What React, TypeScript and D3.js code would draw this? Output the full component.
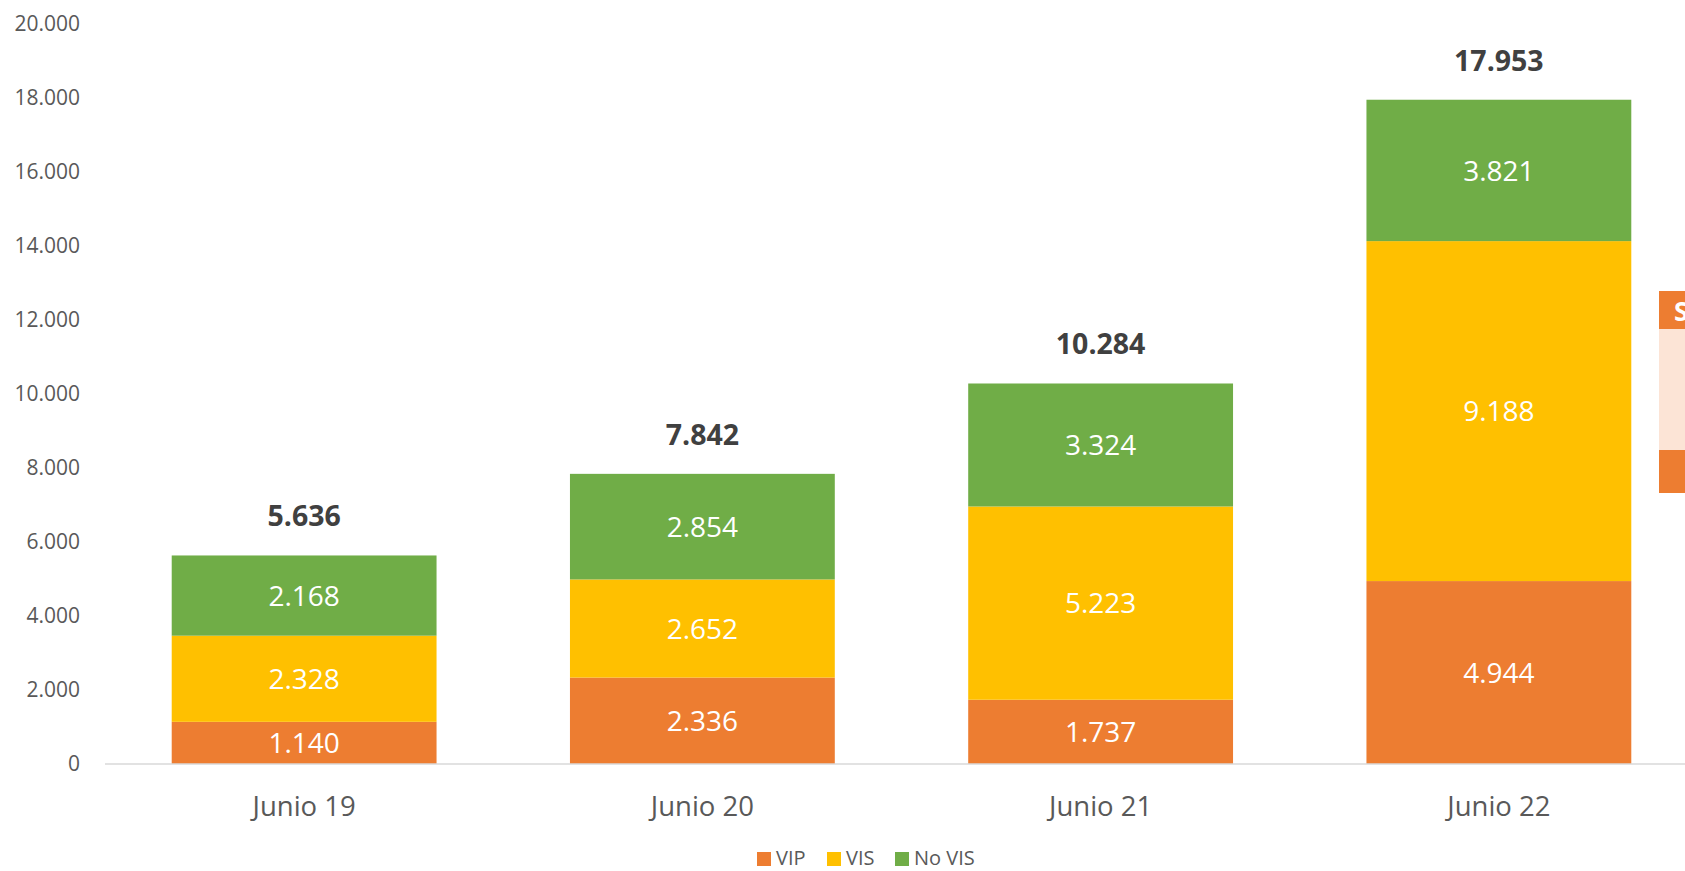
import React from "react";
import * as d3 from "d3";

const categories = ["Junio 19", "Junio 20", "Junio 21", "Junio 22"];
const seriesNames = ["VIP", "VIS", "No VIS"];
const vipValues = [1140, 2336, 1737, 4944];
const visValues = [2328, 2652, 5223, 9188];
const noVisValues = [2168, 2854, 3324, 3821];
const yTicks = [0, 2000, 4000, 6000, 8000, 10000, 12000, 14000, 16000, 18000, 20000];

const colors = ["#ED7D31", "#FFC000", "#70AD47"];
const width = 1685;
const height = 871;
const font = "'Open Sans', 'Noto Sans', sans-serif";

const esLocale = d3.formatLocale({
  decimal: ",",
  thousands: ".",
  grouping: [3],
  currency: ["", ""],
});
const fmt = esLocale.format(",d");

const App = () => {
  const rows = categories.map((c, i) => ({
    cat: c,
    VIP: vipValues[i],
    VIS: visValues[i],
    "No VIS": noVisValues[i],
  }));
  const stacked = d3.stack<any>().keys(seriesNames)(rows);
  const totals = rows.map((r) => r.VIP + r.VIS + r["No VIS"]);

  const x = d3
    .scaleBand()
    .domain(categories)
    .range([105, 1698])
    .paddingInner(0.335)
    .paddingOuter(0.1675);
  const y = d3.scaleLinear().domain([0, 20000]).range([764, 24]);

  // legend layout
  const legendX = [757, 827, 895];

  return (
    <svg
      width={width}
      height={height}
      style={{ position: "absolute", left: 0, top: 0, background: "#fff" }}
      fontFamily={font}
    >
      {/* y axis labels */}
      {yTicks.map((t) => (
        <text
          key={t}
          x={80}
          y={y(t)}
          dy="0.35em"
          textAnchor="end"
          fontSize={21}
          fill="#595959"
        >
          {fmt(t)}
        </text>
      ))}

      {/* bars */}
      {stacked.map((s, si) => (
        <g key={s.key}>
          {s.map((d, i) => (
            <g key={i}>
              <rect
                x={x(categories[i])}
                y={y(d[1])}
                width={x.bandwidth()}
                height={y(d[0]) - y(d[1])}
                fill={colors[si]}
              />
              <text
                x={x(categories[i])! + x.bandwidth() / 2}
                y={(y(d[0]) + y(d[1])) / 2}
                dy="0.36em"
                textAnchor="middle"
                fontSize={28}
                fill="#fff"
              >
                {fmt(d[1] - d[0])}
              </text>
            </g>
          ))}
        </g>
      ))}

      {/* baseline */}
      <line x1={105} x2={width} y1={y(0)} y2={y(0)} stroke="#D9D9D9" strokeWidth={1.5} />

      {/* totals */}
      {totals.map((t, i) => (
        <text
          key={i}
          x={x(categories[i])! + x.bandwidth() / 2}
          y={y(t) - 29}
          textAnchor="middle"
          fontSize={28.5}
          fontWeight="bold"
          fill="#404040"
        >
          {fmt(t)}
        </text>
      ))}

      {/* category labels */}
      {categories.map((c) => (
        <text
          key={c}
          x={x(c)! + x.bandwidth() / 2}
          y={806}
          dy="0.35em"
          textAnchor="middle"
          fontSize={27.5}
          fill="#595959"
        >
          {c}
        </text>
      ))}

      {/* legend */}
      <g transform="translate(0, 852)">
        {seriesNames.map((n, i) => (
          <g key={n} transform={`translate(${legendX[i]}, 0)`}>
            <rect x={0} y={0} width={14} height={14} fill={colors[i]} />
            <text x={19} y={13} fontSize={20} fill="#595959">
              {n}
            </text>
          </g>
        ))}
      </g>

      {/* cut-off side panel */}
      <rect x={1659} y={291} width={30} height={38} fill="#ED7D31" />
      <rect x={1659} y={329} width={30} height={121} fill="#FCE4D6" />
      <rect x={1659} y={450} width={30} height={43} fill="#ED7D31" />
      <text x={1674} y={321} fontSize={26} fontWeight="bold" fill="#fff">S</text>
    </svg>
  );
};

export default App;
